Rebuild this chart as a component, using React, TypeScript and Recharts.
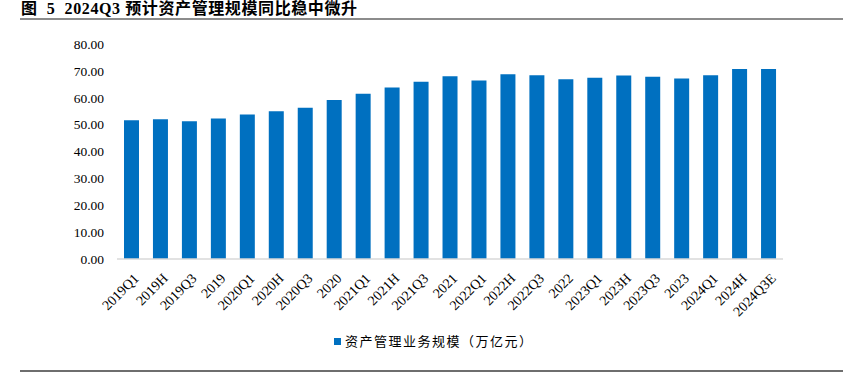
import { BarChart, Bar, XAxis, YAxis } from "recharts";

const periods = [
  "2019Q1", "2019H", "2019Q3", "2019",
  "2020Q1", "2020H", "2020Q3", "2020",
  "2021Q1", "2021H", "2021Q3", "2021",
  "2022Q1", "2022H", "2022Q3", "2022",
  "2023Q1", "2023H", "2023Q3", "2023",
  "2024Q1", "2024H", "2024Q3E",
];

const aumValues = [
  51.6, 52.0, 51.3, 52.3,
  53.8, 55.0, 56.3, 59.2,
  61.5, 63.8, 66.0, 68.0,
  66.4, 68.7, 68.4, 66.9,
  67.4, 68.3, 67.8, 67.2,
  68.4, 70.7, 70.7,
];

const yTicks = [0, 10, 20, 30, 40, 50, 60, 70, 80];

const seriesName = "资产管理业务规模（万亿元）";
const title = "图  5  2024Q3 预计资产管理规模同比稳中微升";

const data = periods.map((p, i) => ({ period: p, value: aumValues[i] }));

const serif = '"Liberation Serif", "Times New Roman", serif';
const cjk = '"Noto Sans CJK SC", sans-serif';

const XTick = ({ x, y, payload }: any) => (
  <text
    x={x + 5}
    y={y + 9}
    transform={`rotate(-45, ${x + 5}, ${y + 9})`}
    textAnchor="end"
    dominantBaseline="central"
    fontFamily={serif}
    fontSize={14}
    fill="#000"
  >
    {payload.value}
  </text>
);

export default function App() {
  return (
    <div style={{ position: "absolute", left: 0, top: 0, width: 846, height: 375, background: "#fff", overflow: "hidden" }}>
      <div
        style={{
          position: "absolute",
          left: 21,
          top: 0,
          fontFamily: `"Liberation Serif", ${cjk}`,
          fontWeight: 700,
          fontSize: 16,
          lineHeight: "18px",
          letterSpacing: 0.6,
          whiteSpace: "pre",
        }}
      >
        {title}
      </div>
      <div style={{ position: "absolute", left: 20, top: 18, width: 823, height: 2, background: "#8c8c8c" }} />
      <div style={{ position: "absolute", left: 20, top: 370, width: 823, height: 2, background: "#6e6e6e" }} />
      <BarChart
        width={846}
        height={375}
        data={data}
        margin={{ top: 44, right: 63, bottom: 36, left: 0 }}
      >
        <XAxis
          dataKey="period"
          interval={0}
          height={80}
          tickLine={false}
          axisLine={{ stroke: "#d9d9d9", strokeWidth: 1.5 }}
          tick={<XTick />}
        />
        <YAxis
          width={117}
          domain={[0, 80]}
          ticks={yTicks}
          interval={0}
          axisLine={false}
          tickLine={false}
          tickSize={0}
          tickMargin={13}
          tickFormatter={(v: number) => v.toFixed(2)}
          tick={{ fontFamily: serif, fontSize: 13.5, fill: "#000" }}
        />
        <Bar dataKey="value" name={seriesName} fill="#0070c0" barSize={15} isAnimationActive={false} />
      </BarChart>
      <div
        style={{
          position: "absolute",
          left: 334,
          top: 332,
          display: "flex",
          alignItems: "center",
          fontFamily: cjk,
          fontSize: 13,
          lineHeight: "18px",
          color: "#000",
        }}
      >
        <span style={{ width: 7, height: 7, background: "#0070c0", marginRight: 4, display: "inline-block" }} />
        <span style={{ letterSpacing: 1.5 }}>{seriesName}</span>
      </div>
    </div>
  );
}
